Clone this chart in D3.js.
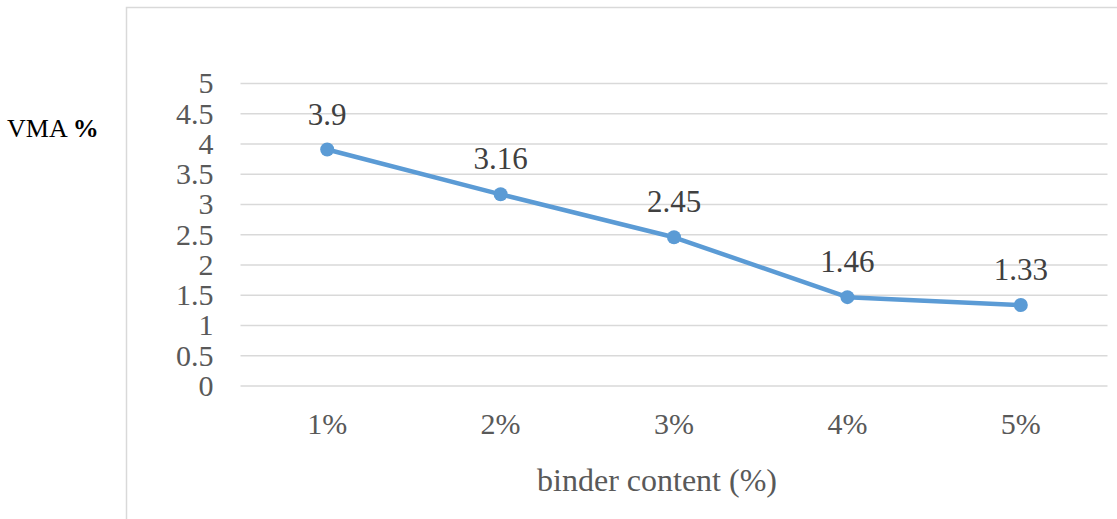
<!DOCTYPE html>
<html>
<head>
<meta charset="utf-8">
<script src="https://cdn.jsdelivr.net/npm/d3@7/dist/d3.min.js"></script>
<style>
  html, body { margin: 0; padding: 0; background: #fff; }
  svg { display: block; }
  svg text { font-family: 'Liberation Serif', 'Times New Roman', serif; }
</style>
</head>
<body>
<svg id="chart" width="1117" height="519"></svg>
<script>
const categories = ["1%", "2%", "3%", "4%", "5%"];
const vmaValues = [3.9, 3.16, 2.45, 1.46, 1.33];
const yTicks = [0, 0.5, 1, 1.5, 2, 2.5, 3, 3.5, 4, 4.5, 5];
const xTitle = "binder content (%)";
const yTitleMain = "VMA ";
const yTitleBold = "%";

(function () {
const svg = d3.select("#chart");
const font = "'Liberation Serif', 'Times New Roman', serif";
const pLeft = 240.5, pRight = 1107.5, pTop = 83, pBottom = 385.5;

const x = d3.scaleBand().domain(categories).range([pLeft, pRight]);
const y = d3.scaleLinear().domain([0, 5]).range([pBottom, pTop]);

// outer chart border
svg.append("rect")
  .attr("x", 126.5).attr("y", 7.5)
  .attr("width", 1200).attr("height", 600)
  .attr("fill", "none").attr("stroke", "#d9d9d9").attr("stroke-width", 1.5);

// gridlines + y tick labels
const yAxis = d3.axisLeft(y).tickValues(yTicks).tickSize(-(pRight - pLeft)).tickFormat(d => d3.format("")(d));
const gy = svg.append("g").attr("transform", `translate(${pLeft},0)`).call(yAxis)
  .attr("font-family", font).attr("font-size", 30);
gy.select(".domain").remove();
gy.selectAll(".tick line").attr("stroke", "#d9d9d9").attr("stroke-width", 1.5);
gy.selectAll(".tick text")
  .attr("x", -27).attr("dy", "0.33em")
  .attr("fill", "#595959")
  .style("font-family", font).style("font-size", "30px");

// x axis
const xAxis = d3.axisBottom(x).tickSize(0).tickPadding(0);
const gx = svg.append("g").attr("transform", `translate(0,${pBottom})`).call(xAxis)
  .attr("font-family", font).attr("font-size", 30);
gx.select(".domain").remove();
gx.selectAll(".tick text")
  .attr("y", 48).attr("dy", 0)
  .attr("fill", "#595959")
  .style("font-family", font).style("font-size", "30px");

// line
const cx = d => x(d.cat) + x.bandwidth() / 2;
const data = categories.map((c, i) => ({ cat: c, v: vmaValues[i] }));
svg.append("path")
  .datum(data)
  .attr("fill", "none")
  .attr("stroke", "#5B9BD5")
  .attr("stroke-width", 4.5)
  .attr("stroke-linejoin", "round")
  .attr("d", d3.line().x(cx).y(d => y(d.v)));

svg.selectAll("circle.pt").data(data).enter().append("circle")
  .attr("class", "pt")
  .attr("cx", cx).attr("cy", d => y(d.v)).attr("r", 7)
  .attr("fill", "#5B9BD5");

// data labels
svg.selectAll("text.lbl").data(data).enter().append("text")
  .attr("class", "lbl")
  .attr("x", cx).attr("y", d => y(d.v) - 25)
  .attr("text-anchor", "middle")
  .attr("fill", "#404040")
  .attr("font-family", font)
  .style("font-family", font).style("font-size", "31px")
  .text(d => d3.format("")(d.v));

// x title
svg.append("text")
  .attr("x", 657).attr("y", 491)
  .attr("text-anchor", "middle")
  .attr("fill", "#595959")
  .attr("font-family", font)
  .style("font-family", font).style("font-size", "32px")
  .text(xTitle);

// y title
const yt = svg.append("text")
  .attr("x", 7).attr("y", 137)
  .attr("fill", "#000")
  .attr("font-family", font)
  .style("font-family", font).style("font-size", "26px");
yt.append("tspan").text(yTitleMain);
yt.append("tspan").attr("font-weight", "bold").text(yTitleBold);
})();
</script>
</body>
</html>
